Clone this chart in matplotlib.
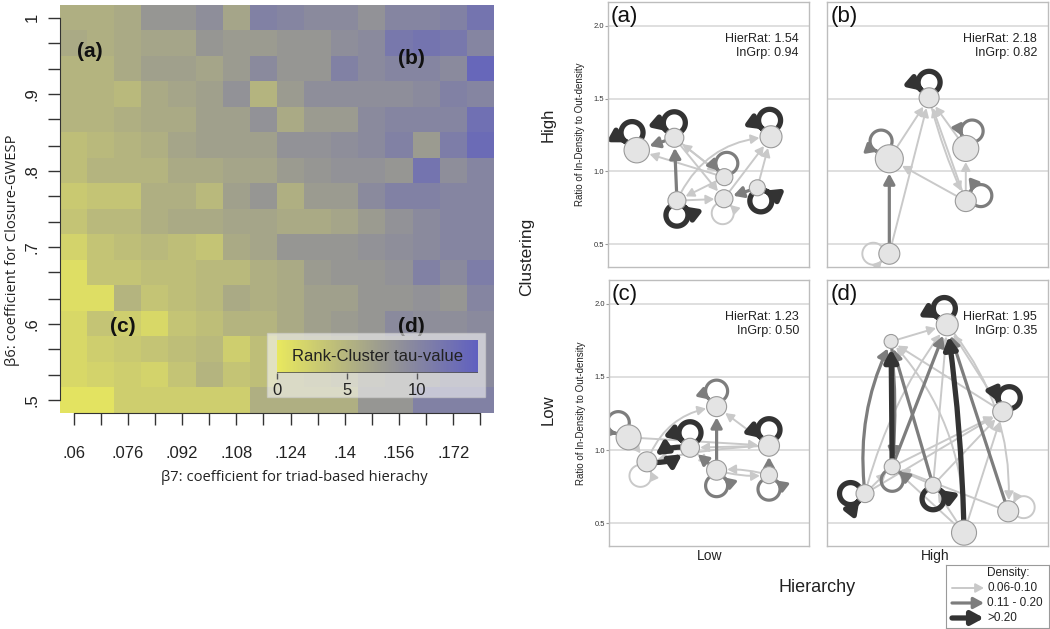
import numpy as np
import matplotlib
matplotlib.use("Agg")
import matplotlib.pyplot as plt
from matplotlib.colors import LinearSegmentedColormap
from matplotlib.patches import FancyArrowPatch, Rectangle
from matplotlib.path import Path

plt.rcParams['font.family'] = ['Liberation Sans', 'DejaVu Sans']

# ---- heatmap data: rank-cluster tau for beta7 (columns) x beta6 (rows, top = 1.0)
beta7 = [0.060, 0.068, 0.076, 0.084, 0.092, 0.100, 0.108, 0.116,
         0.124, 0.132, 0.140, 0.148, 0.156, 0.164, 0.172, 0.180]
beta6 = [1.000, 0.967, 0.933, 0.900, 0.867, 0.833, 0.800, 0.767,
         0.733, 0.700, 0.667, 0.633, 0.600, 0.567, 0.533, 0.500]
beta7_labels = ['.06', '.076', '.092', '.108', '.124', '.14', '.156', '.172']
beta6_labels = ['.5', '.6', '.7', '.8', '.9', '1']
tau = [
    [5.5, 5.5, 6, 8, 8, 9, 6.5, 10.5, 10, 9.5, 9.5, 8.5, 10, 10, 10.5, 12],
    [6, 5.5, 6, 6.5, 6.5, 8, 7.5, 7.5, 8, 8, 9, 9.5, 11.5, 12, 11.5, 10],
    [5, 5, 6, 7, 7, 6.5, 7.5, 9.5, 8, 8, 10.5, 9.5, 10, 10, 9.5, 13.5],
    [5, 5, 4.5, 6, 6.5, 7, 8.5, 5, 7.5, 9, 9, 9, 9, 9.5, 10.5, 10],
    [5, 5, 5.5, 6, 6, 7, 7, 8.5, 6, 7.5, 7.5, 9.5, 10, 10, 10, 12.5],
    [4, 4.5, 5, 5.5, 6.5, 7, 7, 7, 8.5, 8.5, 9, 9.5, 10.5, 7.5, 11, 13],
    [4, 5, 5, 5, 6, 6, 6.5, 6.5, 7.5, 8, 8.5, 8.5, 8, 12, 9, 10],
    [3, 3.5, 3.5, 5.5, 5.5, 4.5, 7, 8, 5.5, 7.5, 7.5, 9.5, 10.5, 10.5, 10, 10],
    [3.5, 4.5, 4.5, 5.5, 6, 6, 6.5, 6.5, 6, 6, 6.5, 7.5, 8.5, 9.5, 10, 10],
    [2, 3.5, 4, 4.5, 4, 3.5, 6, 6.5, 8, 8, 8, 8.5, 9, 9.5, 10, 10],
    [1, 3.5, 3.5, 4, 4, 4.5, 4.5, 5.5, 6, 7.5, 8, 8, 8.5, 10.5, 9.5, 11],
    [1, 1, 5, 3.5, 4, 4.5, 6, 5.5, 6, 7, 7, 8, 8, 8.5, 8, 10],
    [1.5, 3.5, 2.5, 1.5, 3.5, 4, 5, 5, 6, 7, 7.5, 8, 9.5, 9, 9, 9.5],
    [1.5, 2.5, 3, 3.5, 4, 4.5, 2.5, 4, 6, 6.5, 7, 8, 8.5, 9, 9.5, 9.5],
    [1.5, 2, 2.5, 2, 3.5, 5, 3.5, 4, 5.5, 6, 6.5, 7.5, 8, 8.5, 9.5, 9.5],
    [0.5, 0.5, 2.5, 2.5, 2.5, 2.5, 2.5, 5.5, 5.5, 5.5, 5.5, 8, 8, 10.5, 10.5, 10.5],
]
cbar_ticks = [0, 5, 10]

# ---- network panels: node x layout, in/out density ratio, node radius (px)
panel_tags = ['(a)', '(b)', '(c)', '(d)']
hier_rat = [1.54, 2.18, 1.23, 1.95]
in_grp = [0.94, 0.82, 0.50, 0.35]

a_x = [0.143, 0.33, 0.811, 0.579, 0.577, 0.343, 0.743]
a_ratio = [1.146, 1.231, 1.238, 0.961, 0.813, 0.80, 0.888]
a_size = [12.7, 9.5, 11, 8.5, 9, 9, 8]
a_loops = [(0, 3, 105), (1, 3, 90), (2, 3, 95), (3, 2, 80), (4, 1, 265), (5, 3, 270), (6, 3, 285)]
a_edges = [(5, 1, 2, 0), (1, 0, 2, 0), (3, 0, 1, 0), (1, 3, 1, 0), (3, 1, 1, 0), (1, 4, 1, 0),
           (5, 2, 1, -0.3), (5, 4, 1, 0), (3, 5, 1, 0), (4, 2, 1, 0), (6, 2, 1, 0), (6, 4, 2, 0)]

b_x = [0.462, 0.282, 0.628, 0.628, 0.282]
b_ratio = [1.505, 1.087, 1.158, 0.797, 0.436]
b_size = [10, 14, 13, 10.5, 10.5]
b_loops = [(0, 3, 90), (1, 2, 115), (2, 2, 70), (3, 2, 20), (4, 1, 180)]
b_edges = [(4, 1, 2, 0), (4, 0, 1, 0), (1, 0, 1, 0), (2, 0, 1, 0), (3, 0, 1, 0),
           (3, 1, 1, 0), (3, 2, 1, 0), (0, 3, 1, 0.05)]

c_x = [0.098, 0.19, 0.405, 0.538, 0.538, 0.80, 0.80]
c_ratio = [1.087, 0.92, 1.016, 1.297, 0.863, 1.03, 0.829]
c_size = [12.5, 10, 9.5, 10, 10, 10.5, 8.5]
c_loops = [(0, 2, 125), (1, 1, 245), (2, 3, 90), (3, 2, 90), (4, 2, 270), (5, 3, 90), (6, 2, 270)]
c_edges = [(1, 2, 3, 0.25), (2, 1, 3, 0.25), (4, 3, 2, 0), (6, 5, 2, 0), (0, 5, 1, 0),
           (1, 3, 1, -0.3), (0, 1, 1, 0), (2, 4, 1, 0), (4, 2, 2, 0), (5, 2, 1, 0),
           (5, 3, 1, 0), (4, 6, 1, 0.1), (6, 4, 1, 0.1), (5, 1, 1, 0.05)]

d_x = [0.544, 0.29, 0.795, 0.295, 0.48, 0.172, 0.82, 0.62]
d_ratio = [1.856, 1.742, 1.262, 0.886, 0.76, 0.703, 0.582, 0.436]
d_size = [11, 7, 10, 8, 8, 9, 10.5, 12.5]
d_loops = [(0, 3, 100), (2, 3, 65), (3, 2, 270), (4, 3, 270), (5, 3, 180), (6, 1, 15)]
d_edges = [(3, 1, 3, 0), (7, 0, 3, 0.03), (5, 1, 2, -0.15), (1, 3, 2, -0.05), (4, 1, 2, 0),
           (3, 0, 2, 0), (6, 0, 2, 0), (1, 0, 1, 0), (5, 0, 1, -0.1), (4, 0, 1, 0),
           (2, 0, 1, 0), (3, 2, 1, 0), (5, 2, 1, 0), (4, 2, 1, 0), (7, 2, 1, 0),
           (2, 1, 1, 0), (7, 3, 1, 0), (6, 3, 1, 0), (5, 3, 1, 0), (4, 3, 1, 0),
           (7, 1, 1, 0.2), (0, 6, 1, -0.2), (7, 4, 1, 0)]

panels = [(a_x, a_ratio, a_size, a_loops, a_edges),
          (b_x, b_ratio, b_size, b_loops, b_edges),
          (c_x, c_ratio, c_size, c_loops, c_edges),
          (d_x, d_ratio, d_size, d_loops, d_edges)]
density_labels = ['0.06-0.10', '0.11 - 0.20', '>0.20']

W, H = 1050, 629
fig = plt.figure(figsize=(W / 100, H / 100), dpi=100)


def box(l, t, w, h):
    return [l / W, 1 - (t + h) / H, w / W, h / H]


# ---------------- heatmap ----------------
cmap = LinearSegmentedColormap.from_list('tau', ['#e8e85e', '#9e9e8e', '#6060c0'])
ax = fig.add_axes(box(60, 5, 434, 408))
im = ax.imshow(np.array(tau), cmap=cmap, vmin=0, vmax=14.4, aspect='auto',
               extent=[0.056, 0.184, 0.5 - 1 / 60, 1 + 1 / 60], origin='upper')
ax.set_xlim(0.056, 0.184)
ax.set_ylim(0.5 - 1 / 60, 1 + 1 / 60)
ax.set_xticks(beta7)
ax.set_xticklabels([beta7_labels[i // 2] if i % 2 == 0 else '' for i in range(16)])
ax.set_yticks(beta6)
ax.set_yticklabels([beta6_labels[(15 - i) // 3] if (15 - i) % 3 == 0 else '' for i in range(16)],
                   rotation=90, va='center')
ax.tick_params(length=8.5, width=1, color='#333333', labelsize=12, labelcolor='#222222')
ax.tick_params(axis='x', pad=15)
ax.tick_params(axis='y', pad=6)
for s in ['top', 'right']:
    ax.spines[s].set_visible(False)
ax.spines['bottom'].set_bounds(beta7[0], beta7[-1])
ax.spines['left'].set_bounds(beta6[-1], beta6[0])
for s in ['bottom', 'left']:
    ax.spines[s].set_color('#333333')
ax.set_xlabel('β7: coefficient for triad-based hierachy', family=['Open Sans', 'DejaVu Sans'],
              fontsize=10.6, color='#222222')
ax.set_ylabel('β6: coefficient for Closure-GWESP', family=['Open Sans', 'DejaVu Sans'],
              fontsize=10.6, color='#222222')
ax.xaxis.set_label_coords(0.539, -0.140)
ax.yaxis.set_label_coords(-0.092, 0.40)
for tag, (fx, fy) in zip(panel_tags, [(0.069, 0.885), (0.809, 0.870), (0.145, 0.211), (0.809, 0.211)]):
    ax.text(fx, fy, tag, transform=ax.transAxes, fontsize=15, fontweight='bold',
            ha='center', va='center', color='#111111')
ax.add_patch(Rectangle((0.477, 0.039), 0.502, 0.157, transform=ax.transAxes,
                       facecolor='white', alpha=0.55, edgecolor='#d0d0d0', lw=1, zorder=5))

cax = fig.add_axes(box(277, 340, 201, 33))
cb = fig.colorbar(im, cax=cax, orientation='horizontal', ticks=cbar_ticks)
cb.outline.set_visible(False)
cax.tick_params(length=4, width=1, color='#555555', labelsize=12, labelcolor='#222222', pad=3)
cax.axhline(0, color='#555555', lw=1.2)
cax.text(0.5, 0.5, 'Rank-Cluster tau-value', transform=cax.transAxes, ha='center', va='center',
         fontsize=12, color='#222222')

# ---------------- network panels ----------------
edge_style = {
    1: dict(color='#c9c9c9', lw=1.4, ms=9),
    2: dict(color='#7d7d7d', lw=2.3, ms=11),
    3: dict(color='#333333', lw=3.8, ms=13),
}
ARROW = '-|>,head_length=0.55,head_width=0.3'


def draw_edge(ax, p, q, rp, rq, cls, rad):
    st = edge_style[cls]
    ax.add_patch(FancyArrowPatch(p, q, arrowstyle=ARROW, mutation_scale=st['ms'],
                                 color=st['color'], lw=st['lw'], shrinkA=rp * 0.72,
                                 shrinkB=rq * 0.72 + 0.5, connectionstyle=f'arc3,rad={rad}',
                                 zorder=2 + cls * 0.1))


def draw_loop(ax, p, r, cls, ang):
    # horseshoe loop sitting on the node rim, built in pixel space
    st = edge_style[cls]
    cx, cy = ax.transData.transform(p)
    a = np.deg2rad(ang)
    rho = 11.0
    d = r + 5.5
    lx, ly = cx + d * np.cos(a), cy + d * np.sin(a)
    phi = np.linspace(0, 2 * np.pi, 120)
    pts = np.column_stack([lx + rho * np.cos(a + np.pi + phi), ly + rho * np.sin(a + np.pi + phi)])
    pts = pts[np.hypot(pts[:, 0] - cx, pts[:, 1] - cy) >= r - 0.5]
    verts = ax.transData.inverted().transform(pts)
    ax.add_patch(FancyArrowPatch(path=Path(verts), arrowstyle=ARROW, mutation_scale=st['ms'],
                                 color=st['color'], lw=st['lw'], zorder=2.5))


boxes = [(608, 2, 201, 265), (827, 2, 221, 265), (609, 280, 200, 266), (827, 280, 221, 266)]
for k, (bx, (nx, ny, nr, loops, edges)) in enumerate(zip(boxes, panels)):
    pax = fig.add_axes(box(*bx))
    pax.set_xlim(0, 1)
    pax.set_ylim(0.345, 2.162)
    pax.set_yticks([0.5, 1.0, 1.5, 2.0])
    pax.set_xticks([])
    pax.grid(axis='y', color='#dcdcdc', lw=1.3)
    pax.set_axisbelow(True)
    for s in pax.spines.values():
        s.set_color('#bdbdbd')
        s.set_linewidth(1)
    if k % 2 == 0:
        pax.set_yticklabels(['0.5', '1.0', '1.5', '2.0'])
        pax.tick_params(axis='y', length=2, color='#999999', labelsize=5.5, labelcolor='#333333', pad=1)
        pax.set_ylabel('Ratio of In-Density to Out-density', fontsize=7, color='#222222', labelpad=6)
    else:
        pax.set_yticklabels([])
        pax.tick_params(axis='y', length=0)
    for (i, j, cls, rad) in edges:
        draw_edge(pax, (nx[i], ny[i]), (nx[j], ny[j]), nr[i], nr[j], cls, rad)
    for (i, cls, ang) in loops:
        draw_loop(pax, (nx[i], ny[i]), nr[i], cls, ang)
    pax.scatter(nx, ny, s=[(2 * r * 0.72) ** 2 for r in nr], facecolor='#e4e4e4',
                edgecolor='#9a9a9a', linewidth=0.8, zorder=4, clip_on=False)
    pax.text(0.015, 0.985, panel_tags[k], transform=pax.transAxes, fontsize=16,
             ha='left', va='top', color='#111111', zorder=6)
    pax.text(0.95, 0.86, f'HierRat: {hier_rat[k]:.2f}', transform=pax.transAxes, fontsize=9,
             ha='right', va='center', color='#222222', zorder=6)
    pax.text(0.95, 0.807, f'InGrp: {in_grp[k]:.2f}', transform=pax.transAxes, fontsize=9,
             ha='right', va='center', color='#222222', zorder=6)

fig.text(548 / W, 1 - 125 / H, 'High', rotation=90, fontsize=12, ha='center', va='center', color='#222222')
fig.text(548 / W, 1 - 410 / H, 'Low', rotation=90, fontsize=12, ha='center', va='center', color='#222222')
fig.text(527 / W, 1 - 257 / H, 'Clustering', rotation=90, fontsize=12.5, ha='center', va='center', color='#222222')
fig.text(817 / W, 1 - 587 / H, 'Hierarchy', fontsize=13, ha='center', va='center', color='#222222')
fig.text(710 / W, 1 - 556 / H, 'Low', fontsize=10, ha='center', va='center', color='#222222')
fig.text(935 / W, 1 - 556 / H, 'High', fontsize=10, ha='center', va='center', color='#222222')

# ---------------- density legend ----------------
lax = fig.add_axes(box(946, 565, 103, 63))
lax.set_xlim(0, 103)
lax.set_ylim(63, 0)
lax.set_xticks([])
lax.set_yticks([])
for s in lax.spines.values():
    s.set_color('#9a9a9a')
lax.text(41, 8, 'Density:', fontsize=8.5, ha='left', va='center', color='#222222')
for n, lab in enumerate(density_labels):
    yy = 23 + n * 15
    st = edge_style[n + 1]
    lax.add_patch(FancyArrowPatch((6, yy), (38, yy), arrowstyle=ARROW, mutation_scale=st['ms'],
                                  color=st['color'], lw=st['lw'], shrinkA=0, shrinkB=0))
    lax.text(41, yy, lab, fontsize=8.5, ha='left', va='center', color='#222222')

fig.savefig('out.png', dpi=100)
